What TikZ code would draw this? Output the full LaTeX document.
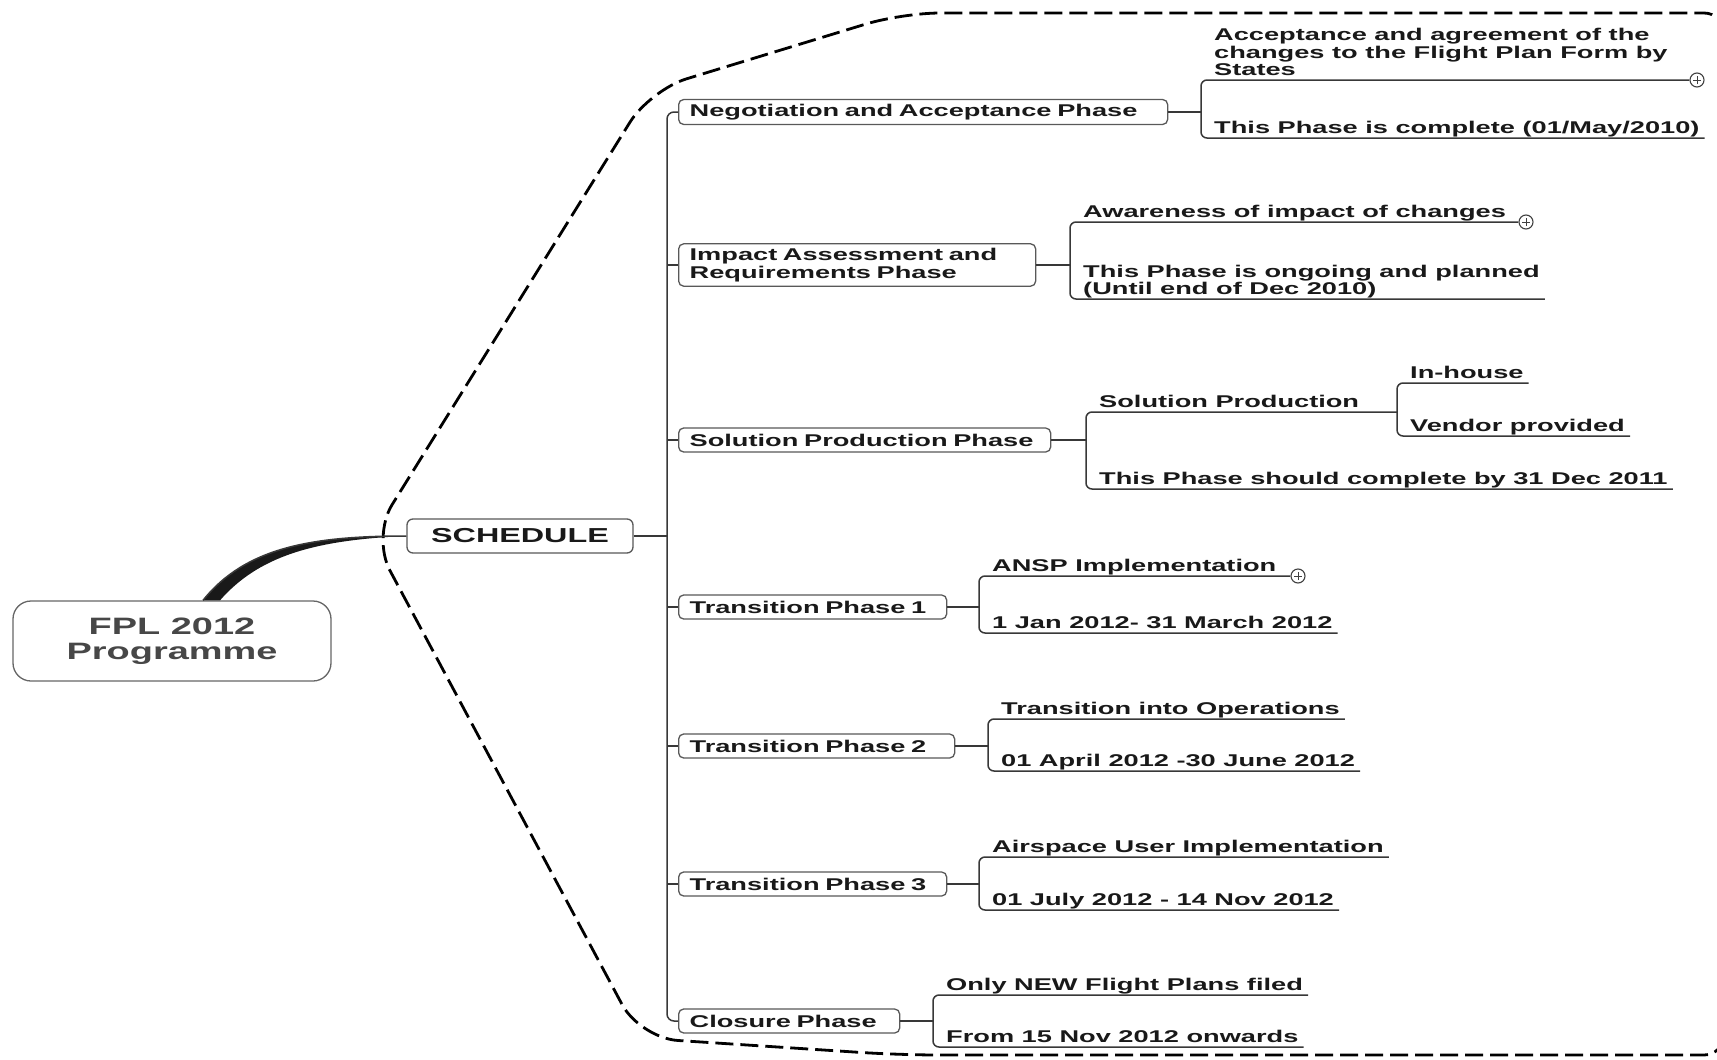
\documentclass[tikz,border=0pt]{standalone}
\usepackage{fontspec}
\setmainfont{Liberation Sans}[FakeStretch=1.6]
\usepackage{xcolor}

\newcommand\leaffont{\fontsize{17}{17.5}\selectfont\bfseries}
\newcommand\hubfont{\fontsize{20.2}{24}\selectfont\bfseries}
\newcommand\fplfont{\fontsize{23.7}{25}\selectfont\bfseries}
\newcommand\lstrut{\rule[-3.5pt]{0pt}{3.5pt}}

\tikzset{
  rootbox/.style={draw=black!60, line width=1.3pt, rounded corners=18pt, minimum width=318pt, minimum height=80pt, align=center, font=\fplfont, text=black!72},
  hubbox/.style={draw=black!65, line width=1.3pt, rounded corners=6pt, minimum width=226pt, minimum height=34pt, font=\hubfont, text=black!90},
  phase/.style={draw=black!65, line width=1.3pt, rounded corners=5pt, anchor=west, align=left, minimum height=24pt, inner xsep=11pt, inner ysep=4.5pt, font=\leaffont, text=black!90},
  leaf/.style={anchor=south west, align=left, inner xsep=5pt, inner ysep=0.5pt, font=\leaffont, text=black!90, execute at end node=\lstrut},
  link/.style={draw=black!78, line width=1.5pt},
  plusbtn/.style={circle, draw=black!75, fill=white, line width=1.1pt, minimum size=14pt, inner sep=0pt,
    path picture={\draw[line width=1pt] ([xshift=-4pt]path picture bounding box.center) -- ([xshift=4pt]path picture bounding box.center)
      ([yshift=-4pt]path picture bounding box.center) -- ([yshift=4pt]path picture bounding box.center);}},
  boundary/.style={black, line width=2.8pt, dash pattern=on 18pt off 7pt}
}

\begin{document}
\begin{tikzpicture}[x=1pt,y=-1pt]
  \useasboundingbox[fill=white] (0,0) rectangle (1717,1060);

  % Dashed region
  \draw[boundary] (1724,60) [rounded corners=20pt] -- (1724,13) [rounded corners=38pt] -- (902,13) -- (650,90) -- (372,537) -- (640,1038) -- (900,1055) [rounded corners=20pt] -- (1724,1055) -- (1724,1020);

  % Root and hub
  \node[rootbox] (fpl) at (172,641) {\raisebox{-3pt}{FPL 2012}\\\raisebox{-3pt}{Programme}};
  \node[hubbox] (sched) at (520,536) {SCHEDULE};
  \fill[black!90] ([xshift=31pt]fpl.north) .. controls (245,548) and (310,536) .. (sched.west)
    .. controls (312,540) and (258,557) .. ([xshift=48pt]fpl.north) -- cycle;
  \draw[link] ([xshift=31pt]fpl.north) .. controls (245,548) and (310,536) .. (sched.west);

  % Phases
  \node[phase, text width=467pt] (neg) at (678,112) {Negotiation and Acceptance Phase};
  \node[phase, text width=335pt] (imp) at (678,265) {Impact Assessment and\\Requirements Phase};
  \node[phase, text width=350pt] (sol) at (678,440) {Solution Production Phase};
  \node[phase, text width=246pt] (tp1) at (678,607) {Transition Phase 1};
  \node[phase, text width=254pt] (tp2) at (678,746) {Transition Phase 2};
  \node[phase, text width=246pt] (tp3) at (678,884) {Transition Phase 3};
  \node[phase, text width=199pt] (clo) at (678,1021) {Closure Phase};

  % Spine
  \coordinate (sp) at (667,0);
  \draw[link] (sched.east) -- (sched.east -| sp);
  \draw[link, rounded corners=7pt] (neg.west) -- (neg.west -| sp) -- (clo.west -| sp) -- (clo.west);
  \foreach \n in {imp,sol,tp1,tp2,tp3}
    \draw[link] (\n.west) -- (\n.west -| sp);

  % Fork points
  \coordinate (f1) at (1201,0);
  \coordinate (f2) at (1070,0);
  \coordinate (f3) at (1086,0);
  \coordinate (f3b) at (1397,0);
  \coordinate (f4) at (979,0);
  \coordinate (f5) at (988,0);
  \coordinate (f6) at (979,0);
  \coordinate (f7) at (933,0);

  % Leaves
  \node[leaf] (acc) at (1209,80) {Acceptance and agreement of the\\changes to the Flight Plan Form by\\States};
  \node[leaf] (com) at (1209,138) {This Phase is complete (01/May/2010)};
  \node[leaf] (awa) at (1078,222) {Awareness of impact of changes};
  \node[leaf] (ong) at (1078,299) {This Phase is ongoing and planned\\(Until end of Dec 2010)};
  \node[leaf] (solp) at (1094,412) {Solution Production};
  \node[leaf] (inh) at (1405,383) {In-house};
  \node[leaf] (ven) at (1405,436) {Vendor provided};
  \node[leaf] (shd) at (1094,489) {This Phase should complete by 31 Dec 2011};
  \node[leaf] (ansp) at (987,576) {ANSP Implementation};
  \node[leaf] (jan) at (987,633) {1 Jan 2012- 31 March 2012};
  \node[leaf] (tio) at (996,719) {Transition into Operations};
  \node[leaf] (apr) at (996,771) {01 April 2012 -30 June 2012};
  \node[leaf] (air) at (987,857) {Airspace User Implementation};
  \node[leaf] (jul) at (987,910) {01 July 2012 - 14 Nov 2012};
  \node[leaf] (onl) at (941,995) {Only NEW Flight Plans filed};
  \node[leaf] (fro) at (941,1047) {From 15 Nov 2012 onwards};

  \node[plusbtn] (p1) at (1697,80) {};
  \node[plusbtn] (p2) at (1526,222) {};
  \node[plusbtn] (p3) at (1298,576) {};

  % Branches
  \draw[link] (neg.east) -- (neg.east -| f1);
  \draw[link, rounded corners=6pt] (p1.west) -- (acc.south west -| f1) -- (com.south west -| f1) -- (com.south east);
  \draw[link] (imp.east) -- (imp.east -| f2);
  \draw[link, rounded corners=6pt] (p2.west) -- (awa.south west -| f2) -- (ong.south west -| f2) -- (ong.south east);
  \draw[link] (sol.east) -- (sol.east -| f3);
  \draw[link, rounded corners=6pt] (solp.south west -| f3b) -- (solp.south west -| f3) -- (shd.south west -| f3) -- (shd.south east);
  \draw[link, rounded corners=6pt] (inh.south east) -- (inh.south west -| f3b) -- (ven.south west -| f3b) -- (ven.south east);
  \draw[link] (tp1.east) -- (tp1.east -| f4);
  \draw[link, rounded corners=6pt] (p3.west) -- (ansp.south west -| f4) -- (jan.south west -| f4) -- (jan.south east);
  \draw[link] (tp2.east) -- (tp2.east -| f5);
  \draw[link, rounded corners=6pt] (tio.south east) -- (tio.south west -| f5) -- (apr.south west -| f5) -- (apr.south east);
  \draw[link] (tp3.east) -- (tp3.east -| f6);
  \draw[link, rounded corners=6pt] (air.south east) -- (air.south west -| f6) -- (jul.south west -| f6) -- (jul.south east);
  \draw[link] (clo.east) -- (clo.east -| f7);
  \draw[link, rounded corners=6pt] (onl.south east) -- (onl.south west -| f7) -- (fro.south west -| f7) -- (fro.south east);
\end{tikzpicture}
\end{document}
